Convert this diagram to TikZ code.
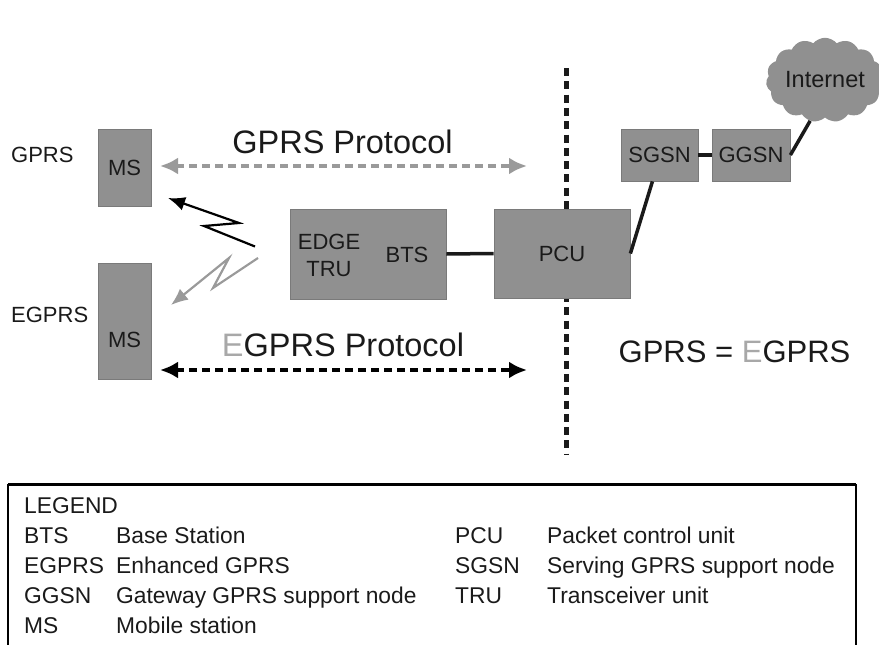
\documentclass[tikz,border=0pt]{standalone}
\usepackage{fontspec}
\setmainfont{Liberation Sans}
\usetikzlibrary{arrows.meta,shapes.symbols}
\definecolor{boxgray}{HTML}{909090}
\definecolor{arrowgray}{HTML}{9A9A9A}
\definecolor{egray}{HTML}{A8A8A8}
\definecolor{inkgray}{HTML}{1A1A1A}
\tikzset{
  unitbox/.style={fill=boxgray, draw=boxgray!85!black, line width=0.8pt, inner sep=0pt, text=inkgray, font={\fontsize{22}{22}\selectfont}},
  plain/.style={inner sep=0pt, text=inkgray, font={\fontsize{22}{22}\selectfont}},
  protocol/.style={inner sep=0pt, text=inkgray, font={\fontsize{32.5}{33}\selectfont}},
  legendtext/.style={anchor=base west, inner sep=0pt, text=inkgray, font={\fontsize{22.8}{22.8}\selectfont}},
  link/.style={line width=3.5pt, inkgray},
  dashlink/.style={line width=4.5pt, dash pattern=on 8pt off 5pt, {Latex[length=18pt,width=17pt]}-{Latex[length=18pt,width=17pt]}},
  zigzag/.style={line width=2.2pt, -{Latex[length=17pt,width=14pt]}, line join=miter},
}
\begin{document}
\begin{tikzpicture}[x=1pt,y=-1pt]
\useasboundingbox (0,0) rectangle (879,645);

% network split
\coordinate (split-top) at (566,68);
\coordinate (split-bot) at (566,455);
\draw [line width=5pt, inkgray, dash pattern=on 8pt off 5.3pt] (split-top) -- (split-bot);

% mobile stations
\node [unitbox, minimum width=53pt, minimum height=77pt] (ms1) at (124.5,167.5) {MS};
\node [unitbox, minimum width=53pt, minimum height=116pt] (ms2) at (124.5,321) {};
\node [plain] (ms2-text) at (124.5,340) {MS};
\node [plain, anchor=west] (gprs) at (11,155) {GPRS};
\node [plain, anchor=west] (egprs) at (11,315) {EGPRS};

% base station and PCU
\node [unitbox, minimum width=156pt, minimum height=90pt] (bts-box) at (368,254) {};
\node [plain, align=center] (tru) at (329,255) {EDGE\\[5pt]TRU};
\node [plain] (bts) at (407,255) {BTS};
\node [unitbox, minimum width=136pt, minimum height=89pt] (pcu) at (562,253.5) {PCU};

% core network
\node [unitbox, minimum width=77pt, minimum height=52pt] (sgsn) at (659.5,155) {SGSN};
\node [unitbox, minimum width=78pt, minimum height=52pt] (ggsn) at (751,155) {GGSN};
\node [cloud, cloud puffs=15, cloud puff arc=100, aspect=1.5, fill=boxgray, inner sep=0pt, minimum width=118pt, minimum height=80pt, text=inkgray, font={\fontsize{23.5}{23.5}\selectfont}] (internet) at (825,80) {Internet};

\draw [link] (bts-box.east) -- (pcu.west);
\draw [link] (pcu.east) -- (sgsn.-105);
\draw [link] (sgsn.east) -- (ggsn.west);
\draw [link] (ggsn.east) -- (internet.-110);

% protocols
\coordinate (gprs-left) at (160,166);
\coordinate (gprs-right) at (527,166);
\coordinate (egprs-left) at (160,370);
\coordinate (egprs-right) at (527,370);
\draw [dashlink, arrowgray] (gprs-left) -- (gprs-right);
\draw [dashlink, black] (egprs-left) -- (egprs-right);
\node [protocol] (gprs-label) at (342.5,142) {GPRS Protocol};
\node [protocol] (egprs-label) at (343,345) {\textcolor{egray}{E}GPRS Protocol};
\node [protocol, font={\fontsize{31}{32}\selectfont}] (same-label) at (734.5,352) {GPRS = \textcolor{egray}{E}GPRS};

% radio links
\coordinate (radio1) at (255,246.5);
\coordinate (radio2) at (258,258);
\coordinate (ms1-air) at (168,198);
\coordinate (ms2-air) at (171,305);
\draw [zigzag, black] (radio1) -- (204,226) -- (239,223) -- (ms1-air);
\draw [zigzag, arrowgray] (radio2) -- (213,288) -- (229,258) -- (ms2-air);

% legend
\coordinate (leg-a) at (8,645);
\coordinate (leg-b) at (8,484);
\coordinate (leg-c) at (856,484);
\coordinate (leg-d) at (856,645);
\draw [line width=1.8pt, black] (leg-a) -- (leg-b);
\draw [line width=1.8pt, black] (leg-c) -- (leg-d);
\draw [line width=3pt, black] (leg-b) -- (leg-c);

\node [legendtext] (leg-title) at (24,513) {LEGEND};
\node [legendtext] (leg1) at (24,543) {BTS};
\node [legendtext] (leg1d) at (116,543) {Base Station};
\node [legendtext] (leg2) at (24,573) {EGPRS};
\node [legendtext] (leg2d) at (116,573) {Enhanced GPRS};
\node [legendtext] (leg3) at (24,603) {GGSN};
\node [legendtext] (leg3d) at (116,603) {Gateway GPRS support node};
\node [legendtext] (leg4) at (24,633) {MS};
\node [legendtext] (leg4d) at (116,633) {Mobile station};
\node [legendtext] (leg5) at (455,543) {PCU};
\node [legendtext] (leg5d) at (547,543) {Packet control unit};
\node [legendtext] (leg6) at (455,573) {SGSN};
\node [legendtext] (leg6d) at (547,573) {Serving GPRS support node};
\node [legendtext] (leg7) at (455,603) {TRU};
\node [legendtext] (leg7d) at (547,603) {Transceiver unit};

\end{tikzpicture}
\end{document}
